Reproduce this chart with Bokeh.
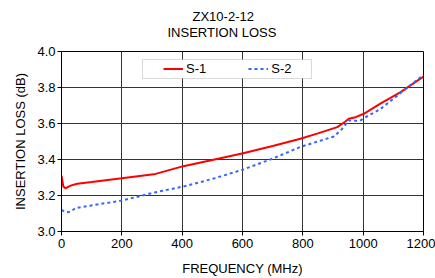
from bokeh.plotting import figure
from bokeh.models import (Range1d, FixedTicker, Legend, LegendItem, Title,
                          BoxAnnotation, PrintfTickFormatter)
from bokeh.embed import file_html
from bokeh.resources import INLINE

# ---- data ----
freq_s1 = [0, 6, 13, 30, 52, 100, 200, 312, 404, 500, 602, 700, 792, 850,
           914, 940, 952, 975, 1002, 1057, 1124, 1200]
loss_s1 = [3.31, 3.25, 3.24, 3.255, 3.265, 3.275, 3.296, 3.32, 3.363, 3.397,
           3.435, 3.475, 3.515, 3.545, 3.58, 3.61, 3.626, 3.635, 3.654, 3.71,
           3.774, 3.86]

freq_s2 = [0, 10, 19, 30, 46, 100, 200, 312, 404, 500, 602, 700, 792, 850,
           903, 930, 952, 970, 991, 1013, 1057, 1113, 1162, 1200]
loss_s2 = [3.12, 3.11, 3.107, 3.11, 3.13, 3.145, 3.172, 3.218, 3.25, 3.292,
           3.344, 3.405, 3.47, 3.5, 3.528, 3.57, 3.617, 3.615, 3.617, 3.64,
           3.68, 3.755, 3.82, 3.87]

x_ticks = [0, 200, 400, 600, 800, 1000, 1200]
y_ticks = [3.0, 3.2, 3.4, 3.6, 3.8, 4.0]

title_line1 = "ZX10-2-12"
title_line2 = "INSERTION  LOSS"
series_names = ["S-1", "S-2"]

FONT = "Liberation Sans"

p = figure(width=435, height=278, output_backend="svg", toolbar_location=None,
           x_range=Range1d(0, 1200), y_range=Range1d(3.0, 4.0),
           min_border_left=61, min_border_right=12, min_border_top=51,
           min_border_bottom=47)
p.background_fill_color = "white"
p.border_fill_color = "white"
p.outline_line_color = "black"
p.outline_line_width = 1

# titles (second line nearest the frame)
p.add_layout(Title(text=title_line2, align="left", offset=106,
                   text_font=FONT, text_font_size="13px",
                   text_font_style="normal", text_color="black",
                   standoff=23), "above")
p.add_layout(Title(text=title_line1, align="left", offset=131,
                   text_font=FONT, text_font_size="13px",
                   text_font_style="normal", text_color="black",
                   standoff=-25), "above")

# axes
for ax in (p.xaxis[0], p.yaxis[0]):
    ax.axis_line_color = "black"
    ax.major_tick_line_color = "black"
    ax.major_tick_in = 0
    ax.major_tick_out = 4
    ax.minor_tick_line_color = None
    ax.major_label_text_font = FONT
    ax.major_label_text_font_size = "13px"
    ax.major_label_text_color = "black"
    ax.axis_label_text_font = FONT
    ax.axis_label_text_font_size = "13px"
    ax.axis_label_text_font_style = "normal"
    ax.axis_label_text_color = "black"

p.xaxis.ticker = FixedTicker(ticks=x_ticks)
p.yaxis.ticker = FixedTicker(ticks=y_ticks)
p.yaxis.formatter = PrintfTickFormatter(format="%.1f")
p.xaxis.axis_label = "FREQUENCY (MHz)"
p.yaxis.axis_label = "INSERTION LOSS (dB)"
p.xaxis.major_label_standoff = 3
p.yaxis.major_label_standoff = 2
p.xaxis.axis_label_standoff = 10
p.yaxis.axis_label_standoff = 6

p.xgrid.ticker = FixedTicker(ticks=x_ticks)
p.ygrid.ticker = FixedTicker(ticks=y_ticks)
for g in (p.xgrid[0], p.ygrid[0]):
    g.grid_line_color = "#333333"
    g.grid_line_width = 1

# series
r1 = p.line(freq_s1, loss_s1, line_color="#ff0000", line_width=2)
r2 = p.line(freq_s2, loss_s2, line_color="#3366ff", line_width=2,
            line_dash="3 3")

# legend box
box = BoxAnnotation(left=81, right=250, bottom=153, top=172,
                    left_units="screen", right_units="screen",
                    bottom_units="screen", top_units="screen",
                    fill_color="white", fill_alpha=1.0,
                    line_color="#808080", line_width=1)
p.add_layout(box)

legend = Legend(items=[LegendItem(label=series_names[0], renderers=[r1]),
                       LegendItem(label=series_names[1], renderers=[r2])],
                orientation="horizontal", location=(100, 153),
                padding=2, margin=0, spacing=42,
                glyph_width=20, glyph_height=15, label_height=15,
                label_standoff=3, border_line_alpha=0,
                background_fill_alpha=0,
                label_text_font=FONT, label_text_font_size="13px",
                label_text_color="black")
p.add_layout(legend)

open("out.html", "w").write(file_html(p, INLINE))
